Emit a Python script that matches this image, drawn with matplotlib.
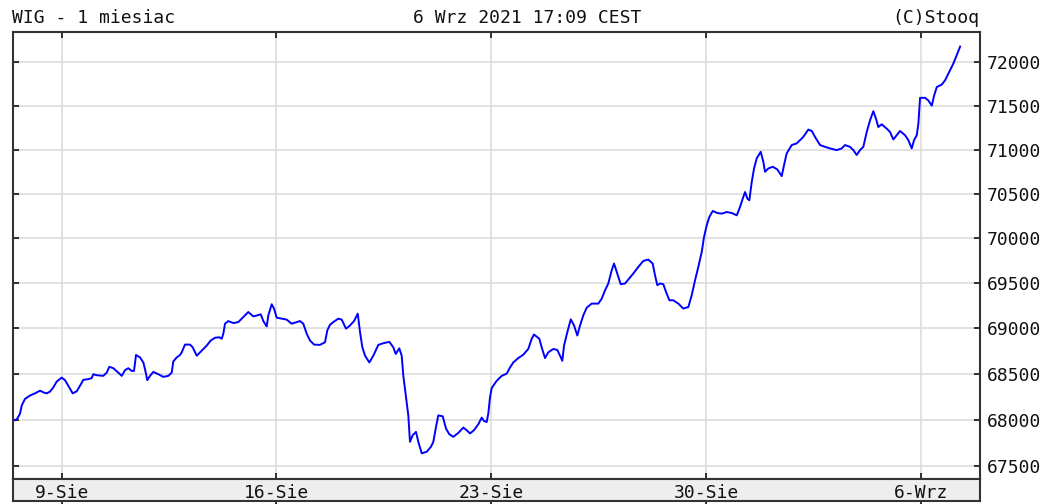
import matplotlib.pyplot as plt
from matplotlib.ticker import FixedLocator, NullLocator

plt.rcParams['font.family'] = ['DejaVu Sans Mono']

# x = trading days counted from the 9-Sie session start, y = WIG index value
days = [-1.087, -1.034, -0.971, -0.931, -0.854, -0.738, -0.622, -0.505, -0.428, -0.349,
        -0.272, -0.196, -0.116, 0.000, 0.077, 0.154, 0.256, 0.349, 0.426, 0.503,
        0.619, 0.698, 0.736, 0.815, 0.968, 1.048, 1.108, 1.201, 1.318, 1.397,
        1.474, 1.550, 1.630, 1.683, 1.730, 1.823, 1.900, 1.939, 1.993, 2.056,
        2.132, 2.249, 2.365, 2.482, 2.561, 2.598, 2.677, 2.754,
        2.794, 2.870, 2.987, 3.050, 3.143, 3.259, 3.376, 3.469, 3.569, 3.669,
        3.725, 3.762, 3.802, 3.878, 3.995, 4.111, 4.228, 4.344, 4.461, 4.554,
        4.633, 4.694, 4.773, 4.810, 4.889, 4.943, 5.005, 5.122, 5.238, 5.354,
        5.471, 5.548, 5.624, 5.704, 5.780, 5.874, 6.013, 6.130, 6.183, 6.246,
        6.323, 6.439, 6.518, 6.619, 6.712, 6.805, 6.892, 6.945, 6.999, 7.062,
        7.161, 7.254, 7.371, 7.487, 7.627, 7.720, 7.776, 7.859, 7.915, 7.953,
        8.015, 8.069, 8.108, 8.171, 8.248, 8.302, 8.381, 8.497, 8.597, 8.651,
        8.714, 8.767, 8.870, 8.946, 9.023, 9.116, 9.233, 9.349, 9.428, 9.505,
        9.598, 9.699, 9.778, 9.831, 9.894, 9.931, 9.971, 10.010,
        10.127, 10.243, 10.359, 10.436, 10.513, 10.630, 10.746, 10.862, 10.942, 10.995,
        11.119, 11.174, 11.251, 11.328, 11.445, 11.538, 11.601, 11.654, 11.694, 11.771,
        11.851, 11.927, 12.004, 12.067, 12.143, 12.223, 12.339, 12.493, 12.572, 12.649,
        12.725, 12.804, 12.858, 12.920, 13.014, 13.114, 13.190, 13.307, 13.423, 13.540,
        13.656,
        13.758, 13.812, 13.866, 13.929, 14.006, 14.069, 14.146, 14.239, 14.355, 14.471,
        14.588, 14.667, 14.744, 14.820, 14.900, 14.953, 15.016, 15.076, 15.156, 15.263,
        15.366, 15.482, 15.598, 15.715, 15.792, 15.855, 15.908, 15.962, 16.008, 16.064,
        16.118, 16.180, 16.273, 16.334, 16.373, 16.450, 16.553, 16.660, 16.762, 16.816,
        16.878, 16.995, 17.111,
        17.265, 17.381, 17.461, 17.537, 17.654, 17.770, 17.886, 18.042, 18.159, 18.236,
        18.352, 18.429, 18.508, 18.585, 18.662, 18.741, 18.817, 18.894, 18.957, 19.010,
        19.090, 19.206, 19.283, 19.360, 19.440, 19.516, 19.633, 19.710, 19.789, 19.843,
        19.906, 19.943, 19.983, 20.100, 20.177, 20.256, 20.310, 20.373, 20.489, 20.566,
        20.643, 20.760, 20.839, 20.916]

wig = [67995, 68013, 68067, 68156, 68228, 68264, 68288, 68317, 68299, 68288,
       68307, 68353, 68417, 68460, 68432, 68371, 68288, 68310, 68371, 68436,
       68443, 68454, 68497, 68486, 68479, 68514, 68578, 68563, 68514, 68479,
       68541, 68563, 68533, 68533, 68708, 68681, 68626, 68552, 68432, 68479,
       68522, 68497, 68468, 68479, 68514, 68637, 68681, 68708,
       68737, 68822, 68822, 68792, 68700, 68756, 68811, 68867, 68897, 68903,
       68886, 68941, 69052, 69081, 69059, 69070, 69126, 69181, 69133, 69144,
       69156, 69081, 69022, 69144, 69267, 69219, 69119, 69108, 69097, 69052,
       69070, 69081, 69052, 68941, 68867, 68822, 68819, 68848, 68978, 69041,
       69070, 69108, 69097, 68997, 69033, 69081, 69163, 68959, 68792, 68700,
       68626, 68700, 68819, 68837, 68852, 68792, 68719, 68781, 68700, 68479,
       68245, 68048, 67761, 67833, 67869, 67761, 67637, 67654, 67708, 67761,
       67923, 68048, 68038, 67905, 67844, 67815, 67858, 67916, 67887, 67852,
       67887, 67952, 68024, 67987, 67976, 68067, 68245, 68346,
       68425, 68479, 68503, 68570, 68626, 68674, 68711, 68774, 68886, 68933,
       68886, 68792, 68674, 68737, 68774, 68763, 68700, 68644, 68811, 68959,
       69100, 69033, 68922, 69033, 69144, 69230, 69274, 69274, 69330, 69422,
       69497, 69644, 69719, 69626, 69489, 69497, 69541, 69608, 69681, 69748,
       69763,
       69719, 69589, 69478, 69497, 69489, 69403, 69311, 69311, 69274, 69219,
       69237, 69367, 69533, 69681, 69848, 70015, 70146, 70239, 70307, 70284,
       70277, 70295, 70284, 70258, 70352, 70446, 70520, 70446, 70427, 70634,
       70786, 70900, 70975, 70861, 70748, 70786, 70805, 70775, 70699, 70824,
       70957, 71051, 71070,
       71144, 71227, 71211, 71144, 71051, 71031, 71013, 70994, 71013, 71051,
       71031, 70994, 70938, 70994, 71031, 71200, 71331, 71436, 71350, 71256,
       71287, 71238, 71200, 71115, 71163, 71211, 71163, 71107, 71013, 71107,
       71163, 71294, 71589, 71589, 71558, 71500, 71616, 71713, 71741, 71791,
       71869, 71985, 72081, 72178]

y_ticks = [67500, 68000, 68500, 69000, 69500, 70000, 70500, 71000, 71500, 72000]
date_pos = [0, 5, 10, 15, 20]
date_labels = ['9-Sie', '16-Sie', '23-Sie', '30-Sie', '6-Wrz']

W, H = 1051, 504
fig = plt.figure(figsize=(W / 100, H / 100), dpi=100)
ax = fig.add_axes([13 / W, 25 / H, 967 / W, 447 / H])

ax.plot(days, wig, color='#0000ff', lw=1.4)
ax.set_yscale('log')
ax.set_xlim(-1.134, 21.378)
ax.set_ylim(67360, 72346)
ax.yaxis.set_major_locator(FixedLocator(y_ticks))
ax.yaxis.set_minor_locator(NullLocator())
ax.set_yticklabels([str(v) for v in y_ticks])
ax.set_xticks(date_pos)
ax.grid(True, color='#dddddd', lw=1.2)
ax.set_axisbelow(True)
ax.tick_params(axis='both', direction='in', length=4, width=1.3, color='#222222',
               top=True, bottom=True, left=True, right=True,
               labelleft=False, labelright=True, labelbottom=False,
               pad=5, labelsize=13, labelcolor='#111111')
for s in ax.spines.values():
    s.set_linewidth(1.5)
    s.set_color('#333333')

# date strip below the plot
sx = fig.add_axes([13 / W, 3 / H, 967 / W, 22 / H])
sx.set_facecolor('#eeeeee')
sx.set_xlim(-1.134, 21.378)
sx.set_ylim(0, 1)
sx.set_yticks([])
sx.set_xticks(date_pos)
sx.tick_params(axis='x', direction='out', length=2, width=1.3, color='#222222',
               labelbottom=False)
for s in sx.spines.values():
    s.set_linewidth(1.5)
    s.set_color('#333333')
for d, lab in zip(date_pos, date_labels):
    sx.text(d, 0.14, lab, ha='center', va='baseline', fontsize=13, color='#111111')

ty = 1 - 23 / H
fig.text(12 / W, ty, 'WIG - 1 miesiac', ha='left', va='baseline', fontsize=13, color='#111111')
fig.text(527 / W, ty, '6 Wrz 2021 17:09 CEST', ha='center', va='baseline', fontsize=13, color='#111111')
fig.text(979 / W, ty, '(C)Stooq', ha='right', va='baseline', fontsize=13, color='#111111')

fig.savefig('out.png', dpi=100)
